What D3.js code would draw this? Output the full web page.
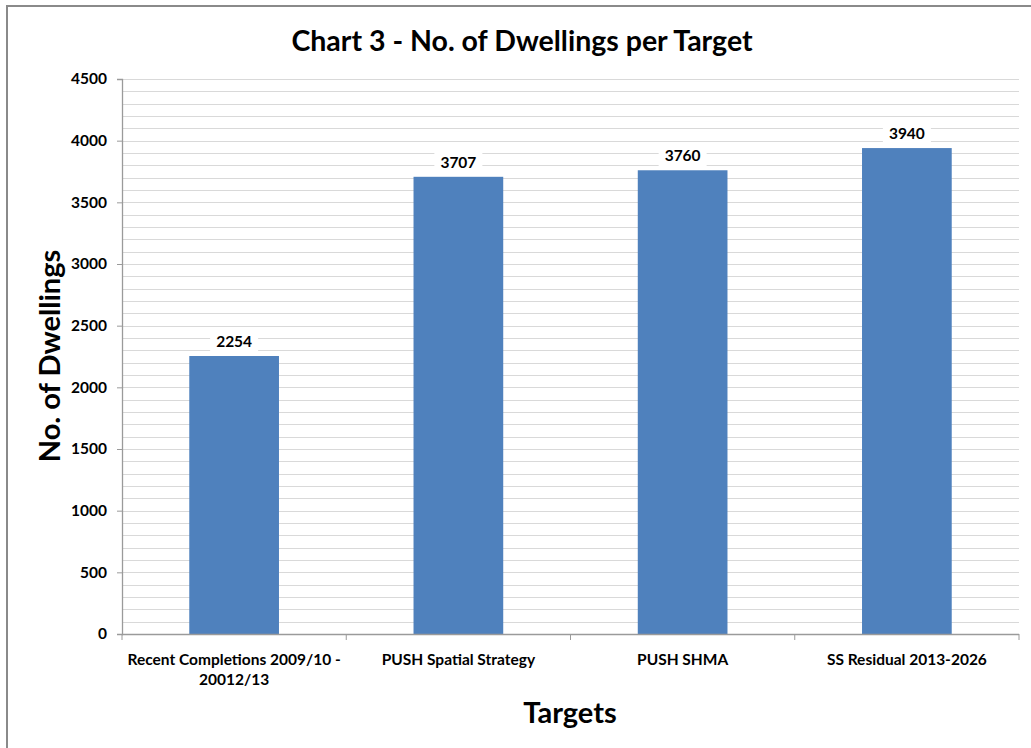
<!DOCTYPE html>
<html>
<head>
<meta charset="utf-8">
<script src="https://cdn.jsdelivr.net/npm/d3@7"></script>
<style>
  body { margin: 0; background: #fff; }
  text { font-family: Lato, "Open Sans", "Liberation Sans", sans-serif; font-weight: bold; fill: #000; }
</style>
</head>
<body>
<div id="chart"></div>
<script>
// chart data
var categories = ["Recent Completions 2009/10 - 20012/13", "PUSH Spatial Strategy", "PUSH SHMA", "SS Residual 2013-2026"];
var labelLines = [["Recent Completions 2009/10 -", "20012/13"], ["PUSH Spatial Strategy"], ["PUSH SHMA"], ["SS Residual 2013-2026"]];
var dwellings = [2254, 3707, 3760, 3940];
var yTicks = [0, 500, 1000, 1500, 2000, 2500, 3000, 3500, 4000, 4500];

var width = 1031, height = 748;
var plotLeft = 122, plotRight = 1019, plotTop = 79, plotBottom = 634;

var svg = d3.select("#chart").append("svg")
	.attr("width", width)
	.attr("height", height);

// outer frame
svg.append("rect")
	.attr("x", 7).attr("y", 6)
	.attr("width", width + 10).attr("height", height + 10)
	.attr("fill", "none")
	.attr("stroke", "#8a8a8a")
	.attr("stroke-width", 2);

var x = d3.scaleBand()
	.domain(categories)
	.range([plotLeft, plotRight])
	.paddingInner(0.6)
	.paddingOuter(0.3);

var y = d3.scaleLinear()
	.domain([0, 4500])
	.range([plotBottom, plotTop]);

// minor + major gridlines every 100
var grid = d3.range(100, 4501, 100);
svg.append("g").selectAll("line")
	.data(grid)
	.enter().append("line")
	.attr("x1", plotLeft).attr("x2", plotRight)
	.attr("y1", function(d) { return Math.round(y(d)) + 0.5; })
	.attr("y2", function(d) { return Math.round(y(d)) + 0.5; })
	.attr("stroke", "#d9d9d9")
	.attr("stroke-width", 1.2);

// bars
svg.append("g").selectAll("rect")
	.data(dwellings)
	.enter().append("rect")
	.attr("x", function(d, i) { return x(categories[i]); })
	.attr("y", function(d) { return y(d); })
	.attr("width", x.bandwidth())
	.attr("height", function(d) { return plotBottom - y(d); })
	.attr("fill", "#4f81bd");

// y axis
var yAxis = d3.axisLeft(y).tickValues(yTicks).tickFormat(d3.format("d")).tickSize(5).tickPadding(10);
var gy = svg.append("g")
	.attr("transform", "translate(" + plotLeft + ",0)")
	.call(yAxis);
gy.select(".domain").attr("stroke", "#9a9a9a").attr("stroke-width", 1.3);
gy.selectAll(".tick line").attr("stroke", "#9a9a9a");
gy.selectAll(".tick text").style("font-size", "15.5px").style("font-family", "Lato, sans-serif").style("font-weight", "bold");

// x axis line and separators
svg.append("line")
	.attr("x1", plotLeft).attr("x2", plotRight)
	.attr("y1", plotBottom + 0.5).attr("y2", plotBottom + 0.5)
	.attr("stroke", "#9a9a9a").attr("stroke-width", 1.3);
var step = x.step();
svg.append("g").selectAll("line")
	.data(d3.range(categories.length + 1))
	.enter().append("line")
	.attr("x1", function(d) { return plotLeft + d * step; })
	.attr("x2", function(d) { return plotLeft + d * step; })
	.attr("y1", plotBottom).attr("y2", plotBottom + 6)
	.attr("stroke", "#9a9a9a");

// category labels
var catLbl = svg.append("g").selectAll("text")
	.data(categories)
	.enter().append("text")
	.attr("x", function(d) { return x(d) + x.bandwidth() / 2; })
	.attr("y", 665)
	.attr("text-anchor", "middle")
	.style("font-size", "15.5px");
catLbl.each(function(d, i) {
	var t = d3.select(this);
	labelLines[i].forEach(function(line, j) {
		t.append("tspan")
			.attr("x", x(d) + x.bandwidth() / 2)
			.attr("dy", j === 0 ? 0 : 20)
			.text(line);
	});
});

// value labels with white box
var vl = svg.append("g").selectAll("g")
	.data(dwellings)
	.enter().append("g")
	.attr("transform", function(d, i) {
		return "translate(" + (x(categories[i]) + x.bandwidth() / 2) + "," + (y(d) - 14) + ")";
	});
vl.append("rect")
	.attr("x", -24).attr("y", -13)
	.attr("width", 48).attr("height", 24)
	.attr("fill", "#fff");
vl.append("text")
	.attr("text-anchor", "middle")
	.attr("y", 5)
	.style("font-size", "15.5px")
	.text(function(d) { return d; });

// titles
svg.append("text")
	.attr("x", 522).attr("y", 51)
	.attr("text-anchor", "middle")
	.style("font-size", "28.5px")
	.text("Chart 3 - No. of Dwellings per Target");

svg.append("text")
	.attr("transform", "translate(60,356) rotate(-90)")
	.attr("text-anchor", "middle")
	.style("font-size", "29px")
	.text("No. of Dwellings");

svg.append("text")
	.attr("x", 570).attr("y", 723)
	.attr("text-anchor", "middle")
	.style("font-size", "29px")
	.text("Targets");
</script>
</body>
</html>
